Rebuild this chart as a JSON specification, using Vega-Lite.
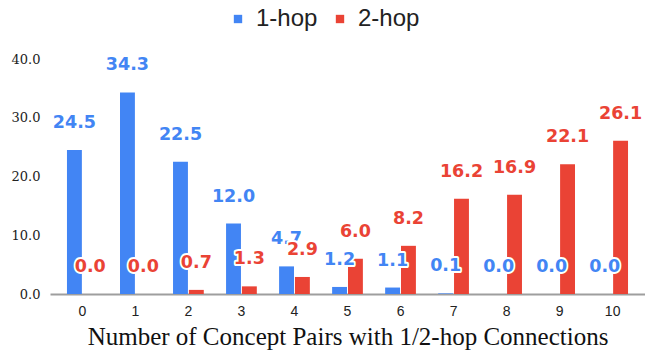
{
  "$schema": "https://vega.github.io/schema/vega-lite/v6.json",
  "width": 595,
  "height": 235,
  "autosize": {"type": "none"},
  "padding": {"left": 50, "top": 59, "right": 0, "bottom": 57},
  "background": "white",
  "config": {"view": {"stroke": null}},
  "data": {
    "values": [
      {"n": 0, "hop": "1-hop", "v": 24.5}, {"n": 0, "hop": "2-hop", "v": 0.0},
      {"n": 1, "hop": "1-hop", "v": 34.3}, {"n": 1, "hop": "2-hop", "v": 0.0},
      {"n": 2, "hop": "1-hop", "v": 22.5}, {"n": 2, "hop": "2-hop", "v": 0.7},
      {"n": 3, "hop": "1-hop", "v": 12.0}, {"n": 3, "hop": "2-hop", "v": 1.3},
      {"n": 4, "hop": "1-hop", "v": 4.7}, {"n": 4, "hop": "2-hop", "v": 2.9},
      {"n": 5, "hop": "1-hop", "v": 1.2}, {"n": 5, "hop": "2-hop", "v": 6.0},
      {"n": 6, "hop": "1-hop", "v": 1.1}, {"n": 6, "hop": "2-hop", "v": 8.2},
      {"n": 7, "hop": "1-hop", "v": 0.1}, {"n": 7, "hop": "2-hop", "v": 16.2},
      {"n": 8, "hop": "1-hop", "v": 0.0}, {"n": 8, "hop": "2-hop", "v": 16.9},
      {"n": 9, "hop": "1-hop", "v": 0.0}, {"n": 9, "hop": "2-hop", "v": 22.1},
      {"n": 10, "hop": "1-hop", "v": 0.0}, {"n": 10, "hop": "2-hop", "v": 26.1}
    ]
  },
  "encoding": {
    "x": {
      "field": "n", "type": "ordinal",
      "scale": {"paddingInner": 0.42, "paddingOuter": 0.32},
      "title": "Number of Concept Pairs with 1/2-hop Connections",
      "axis": {
        "labelAngle": 0, "ticks": false, "domainColor": "#9e9e9e", "domainWidth": 2,
        "labelFont": "Liberation Sans", "labelFontSize": 14, "labelColor": "#222", "labelPadding": 10,
        "titleFont": "Liberation Serif", "titleFontSize": 25, "titleFontWeight": "normal",
        "titleColor": "#111", "titlePadding": 6
      }
    },
    "xOffset": {"field": "hop", "type": "nominal", "scale": {"paddingInner": 0.06}},
    "y": {
      "field": "v", "type": "quantitative",
      "scale": {"domain": [0, 40]},
      "axis": {
        "title": null, "values": [0, 10, 20, 30, 40], "format": ".1f",
        "domain": false, "ticks": false, "grid": false,
        "labelFont": "DejaVu Serif", "labelFontSize": 13, "labelColor": "#222", "labelPadding": 10
      }
    }
  },
  "layer": [
    {
      "mark": {"type": "bar"},
      "encoding": {
        "color": {
          "field": "hop", "type": "nominal",
          "scale": {"domain": ["1-hop", "2-hop"], "range": ["#4285F4", "#EA4335"]},
          "legend": {
            "title": null, "orient": "none", "direction": "horizontal",
            "legendX": 176, "legendY": -52,
            "symbolType": "square", "symbolSize": 70, "symbolStrokeWidth": 0,
            "labelFont": "Liberation Sans", "labelFontSize": 24, "labelColor": "#222",
            "columnPadding": 10, "symbolOffset": 0, "labelOffset": 6
          }
        }
      }
    },
    {
      "transform": [{"filter": "datum.hop === '1-hop'"}],
      "mark": {"type": "text", "font": "DejaVu Sans", "fontSize": 17.5, "fontWeight": "bold", "dy": -22, "baseline": "alphabetic", "fill": "white", "stroke": "white", "strokeWidth": 4, "strokeJoin": "round"},
      "encoding": {"text": {"field": "v", "type": "quantitative", "format": ".1f"}}
    },
    {
      "transform": [{"filter": "datum.hop === '1-hop'"}],
      "mark": {"type": "text", "font": "DejaVu Sans", "fontSize": 17.5, "fontWeight": "bold", "dy": -22, "baseline": "alphabetic"},
      "encoding": {
        "text": {"field": "v", "type": "quantitative", "format": ".1f"},
        "color": {"field": "hop", "type": "nominal", "legend": null}
      }
    },
    {
      "transform": [{"filter": "datum.hop === '2-hop'"}],
      "mark": {"type": "text", "font": "DejaVu Sans", "fontSize": 17.5, "fontWeight": "bold", "dy": -22, "baseline": "alphabetic", "fill": "white", "stroke": "white", "strokeWidth": 4, "strokeJoin": "round"},
      "encoding": {"text": {"field": "v", "type": "quantitative", "format": ".1f"}}
    },
    {
      "transform": [{"filter": "datum.hop === '2-hop'"}],
      "mark": {"type": "text", "font": "DejaVu Sans", "fontSize": 17.5, "fontWeight": "bold", "dy": -22, "baseline": "alphabetic"},
      "encoding": {
        "text": {"field": "v", "type": "quantitative", "format": ".1f"},
        "color": {"field": "hop", "type": "nominal", "legend": null}
      }
    }
  ]
}
